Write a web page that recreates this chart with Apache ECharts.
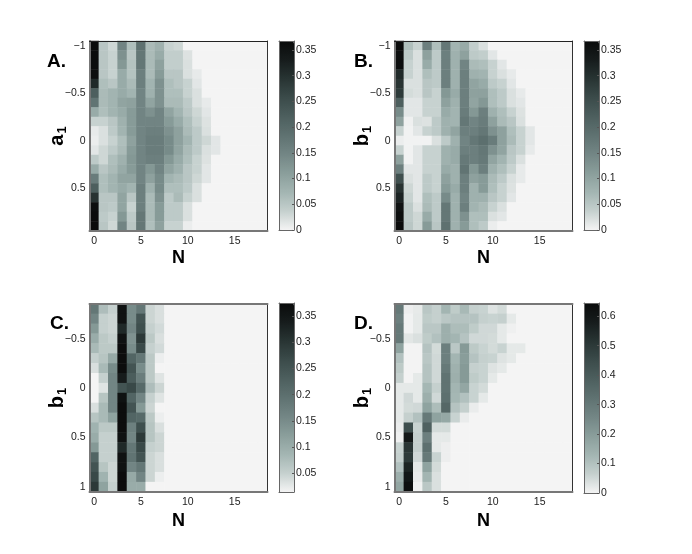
<!DOCTYPE html>
<html>
<head>
<meta charset="utf-8">
<style>html,body{margin:0;padding:0;background:#fff}#chart{width:692px;height:554px}</style>
<script src="https://cdn.jsdelivr.net/npm/echarts@6/dist/echarts.min.js"></script>
</head>
<body>
<div id="chart"></div>
<script>
const nCats = ['0','1','2','3','4','5','6','7','8','9','10','11','12','13','14','15','16','17','18'];
const rowsLong = ['-1','-0.9','-0.8','-0.7','-0.6','-0.5','-0.4','-0.3','-0.2','-0.1','0','0.1','0.2','0.3','0.4','0.5','0.6','0.7','0.8','0.9'];
const rowsShort = ['-0.8','-0.7','-0.6','-0.5','-0.4','-0.3','-0.2','-0.1','0','0.1','0.2','0.3','0.4','0.5','0.6','0.7','0.8','0.9','1'];

// each row runs from N=0, cells past the end are 0
const valuesA = [
    [.37,.05,.03,.15,.06,.185,.065,.08,.035,.03],
    [.37,.05,.035,.13,.05,.175,.065,.09,.04,.04,.018],
    [.36,.05,.035,.12,.055,.175,.065,.105,.04,.04,.02],
    [.36,.05,.035,.09,.055,.16,.065,.115,.05,.05,.02,.01],
    [.31,.06,.05,.09,.065,.16,.075,.13,.06,.05,.035,.014],
    [.22,.065,.075,.09,.075,.15,.08,.13,.06,.06,.035,.02],
    [.18,.065,.075,.1,.105,.15,.1,.13,.065,.065,.045,.02,.01],
    [.09,.06,.075,.09,.115,.15,.13,.15,.1,.075,.05,.03,.014],
    [.035,.035,.05,.08,.115,.15,.15,.15,.115,.09,.06,.035,.018],
    [.01,.02,.045,.075,.115,.15,.16,.16,.13,.105,.065,.045,.02],
    [.007,.02,.035,.06,.105,.15,.165,.165,.14,.105,.075,.045,.03,.014],
    [.014,.03,.045,.065,.115,.15,.165,.165,.14,.1,.065,.045,.02,.014],
    [.045,.03,.06,.08,.12,.15,.16,.16,.12,.09,.06,.035,.018],
    [.09,.05,.065,.09,.115,.15,.12,.15,.1,.08,.05,.035,.014],
    [.165,.06,.075,.1,.1,.15,.105,.14,.075,.065,.05,.03,.014],
    [.22,.06,.075,.09,.075,.16,.08,.14,.06,.06,.045,.02],
    [.295,.05,.05,.1,.05,.16,.065,.13,.045,.065,.035,.02],
    [.36,.05,.045,.1,.035,.16,.065,.115,.045,.045,.02],
    [.37,.045,.035,.12,.045,.175,.065,.115,.045,.045,.02],
    [.37,.05,.03,.15,.05,.175,.06,.105,.035,.035,.007]
];
const valuesB = [
    [.37,.06,.035,.16,.06,.175,.075,.09,.04,.02],
    [.36,.045,.02,.105,.045,.16,.08,.105,.045,.04,.014],
    [.36,.035,.02,.09,.045,.16,.08,.15,.065,.06,.035,.014],
    [.31,.035,.02,.06,.045,.16,.08,.16,.08,.075,.035,.02,.01],
    [.295,.02,.02,.05,.045,.16,.08,.16,.1,.09,.045,.035,.014],
    [.285,.025,.02,.05,.035,.12,.09,.16,.105,.105,.06,.045,.02,.01],
    [.22,.014,.014,.035,.035,.105,.08,.16,.1,.12,.06,.045,.02,.014],
    [.14,.014,.014,.035,.035,.09,.075,.165,.12,.16,.08,.06,.035,.018],
    [.105,.004,.02,.018,.045,.08,.075,.175,.15,.165,.105,.065,.05,.02],
    [.035,.002,.014,.035,.045,.08,.1,.16,.16,.175,.13,.105,.06,.035,.014],
    [.007,.002,.002,.002,.02,.045,.08,.15,.175,.19,.165,.105,.065,.035,.014],
    [.035,.002,.014,.035,.035,.08,.09,.16,.16,.175,.13,.1,.05,.035,.01],
    [.105,.002,.014,.035,.035,.08,.09,.17,.16,.17,.1,.075,.045,.02],
    [.16,.014,.014,.035,.035,.09,.08,.18,.12,.16,.08,.06,.035,.01],
    [.25,.02,.014,.045,.035,.105,.08,.16,.105,.115,.065,.045,.02,.01],
    [.295,.03,.014,.045,.035,.115,.09,.16,.08,.115,.06,.035,.018],
    [.32,.035,.014,.06,.045,.14,.08,.15,.08,.08,.05,.035,.014],
    [.35,.045,.02,.065,.045,.175,.08,.16,.075,.065,.035,.02],
    [.36,.045,.03,.09,.045,.175,.08,.13,.06,.06,.02,.014],
    [.37,.05,.03,.115,.05,.185,.08,.115,.06,.045,.007]
];
const valuesC = [
    [.185,.075,.05,.36,.15,.185,.045,.035],
    [.16,.05,.045,.36,.15,.25,.045,.035],
    [.13,.05,.045,.32,.16,.26,.05,.04],
    [.1,.06,.05,.36,.14,.295,.06,.035],
    [.08,.06,.06,.37,.15,.27,.05,.04],
    [.05,.065,.105,.37,.22,.185,.06,.02],
    [.035,.08,.15,.37,.25,.15,.06,.014],
    [.014,.05,.16,.34,.235,.175,.06,.03],
    [.014,.03,.16,.25,.27,.21,.075,.045],
    [.014,.065,.16,.36,.22,.16,.05,.03],
    [.035,.08,.16,.37,.25,.13,.045,.014],
    [.065,.08,.115,.37,.22,.21,.06,.02],
    [.09,.06,.06,.37,.17,.26,.065,.035],
    [.1,.05,.05,.36,.16,.295,.065,.045],
    [.13,.05,.05,.32,.185,.27,.05,.045],
    [.22,.05,.05,.36,.19,.25,.045,.035],
    [.25,.065,.045,.36,.16,.185,.045,.035],
    [.27,.09,.045,.37,.105,.16,.045,.02],
    [.295,.115,.05,.37,.1,.1,.014,.014]
];
const valuesD = [
    [.30,.01,.018,.085,.065,.13,.075,.12,.065,.06,.03,.045],
    [.28,.004,.02,.075,.065,.085,.095,.095,.095,.065,.06,.065,.02],
    [.30,.004,.02,.085,.085,.145,.11,.11,.075,.05,.05,.02,.007],
    [.30,.025,.035,.075,.1,.145,.13,.095,.05,.05,.045,.02],
    [.18,.002,.002,.095,.045,.28,.085,.205,.08,.06,.045,.06,.02,.02],
    [.10,.002,.002,.085,.05,.28,.13,.195,.095,.065,.06,.03,.02],
    [.08,.002,.002,.095,.05,.30,.14,.205,.065,.06,.03,.02],
    [.065,.002,.02,.095,.05,.32,.145,.205,.075,.06,.02],
    [.02,.02,.02,.125,.065,.32,.13,.17,.06,.045],
    [.02,.05,.02,.145,.05,.33,.125,.10,.06,.02],
    [.02,.045,.05,.18,.11,.36,.095,.065,.014],
    [.02,.065,.10,.30,.18,.165,.06,.014],
    [.014,.44,.06,.38,.045,.045],
    [.007,.59,.065,.28,.02,.02],
    [.06,.51,.065,.33,.02,.01],
    [.065,.5,.05,.30,.06,.01],
    [.10,.56,.02,.18,.045],
    [.145,.60,.014,.13,.035],
    [.17,.63,.004,.085,.035]
];

const barTicksA = [0,0.05,0.1,0.15,0.2,0.25,0.3,0.35];
const barTicksC = [0.05,0.1,0.15,0.2,0.25,0.3,0.35];
const barTicksD = [0,0.1,0.2,0.3,0.4,0.5,0.6];

const grayMap = ['#f4f4f4','#c5d0ce','#a3b5b2','#8a9e9b','#738685','#5f7271','#4d5f5e','#3b4b4a','#283433','#161c1c','#0a0b0b'];
const labelFont = '"Liberation Sans",sans-serif';

const panels = [
    {letter:'A.', lx:47, ly:52, left:89.5, top:41, height:190, nGap:18, values:valuesA, rows:rowsLong, yName:'a', barLeft:279, barTop:41, barH:189, min:0, max:0.3675, ticks:barTicksA},
    {letter:'B.', lx:354, ly:52, left:394.5, top:41, height:190, nGap:18, values:valuesB, rows:rowsLong, yName:'b', barLeft:584, barTop:41, barH:189, min:0, max:0.3675, ticks:barTicksA},
    {letter:'C.', lx:50, ly:314, left:89.5, top:304, height:188, nGap:20, values:valuesC, rows:rowsShort, yName:'b', barLeft:279, barTop:303, barH:189, min:0.014, max:0.375, ticks:barTicksC},
    {letter:'D.', lx:354, ly:314, left:394.5, top:304, height:188, nGap:20, values:valuesD, rows:rowsShort, yName:'b', barLeft:584, barTop:303, barH:190, min:0, max:0.645, ticks:barTicksD}
];

const option = {
    animation: false,
    backgroundColor: '#fff',
    title: [], grid: [], xAxis: [], yAxis: [], visualMap: [], series: []
};

const isMajor = (rows) => (idx) => Number(rows[idx]) * 2 % 1 === 0;

panels.forEach((p, i) => {
    const g = option.grid.length;
    option.title.push({
        text: p.letter, left: p.lx, top: p.ly, padding: 0,
        textStyle: {fontFamily: labelFont, fontSize: 19, fontWeight: 'bold', color: '#000'}
    });
    option.grid.push({left: p.left, top: p.top, width: 178, height: p.height});

    const xTick = (idx) => idx % 5 === 0;
    const yTick = isMajor(p.rows);
    const lineStyle = {color: '#555', width: 1};
    option.xAxis.push({
        type: 'category', gridIndex: g, data: nCats, position: 'bottom', z: 5,
        name: 'N', nameLocation: 'middle', nameGap: p.nGap,
        nameTextStyle: {fontFamily: labelFont, fontSize: 18, fontWeight: 'bold', color: '#000'},
        axisLine: {lineStyle: {color: '#777', width: 2}},
        axisTick: {inside: true, length: 2, interval: xTick, alignWithLabel: true, lineStyle},
        axisLabel: {interval: xTick, margin: 5, fontFamily: labelFont, fontSize: 10.5, color: '#222'},
        splitLine: {show: false}
    }, {
        type: 'category', gridIndex: g, data: nCats, position: 'top', z: 5,
        axisLine: {lineStyle: {color: i < 2 ? '#222' : '#777', width: i < 2 ? 1 : 2}},
        axisTick: {inside: true, length: 2, interval: xTick, alignWithLabel: true, lineStyle},
        axisLabel: {show: false}, splitLine: {show: false}
    });
    option.yAxis.push({
        type: 'category', gridIndex: g, data: p.rows, inverse: true, position: 'left', z: 5,
        name: '{m|' + p.yName + '}{s|1}', nameLocation: 'middle', nameGap: 21, nameRotate: 90, nameMoveOverlap: false,
        nameTextStyle: {
            rich: {
                m: {fontFamily: labelFont, fontSize: 20, fontWeight: 'bold', color: '#000'},
                s: {fontFamily: labelFont, fontSize: 13, fontWeight: 'bold', color: '#000', verticalAlign: 'bottom', padding: [10, 0, 0, 1]}
            }
        },
        axisLine: {lineStyle: {color: '#777', width: 2}},
        axisTick: {inside: true, length: 2, interval: yTick, alignWithLabel: true, lineStyle},
        axisLabel: {
            interval: yTick, margin: 4, fontFamily: labelFont, fontSize: 10.5, color: '#222',
            formatter: (v) => v.replace('-', '\u2212')
        },
        splitLine: {show: false}
    }, {
        type: 'category', gridIndex: g, data: p.rows, inverse: true, position: 'right', z: 5,
        axisLine: {lineStyle: {color: '#333', width: 1}},
        axisTick: {inside: true, length: 2, interval: yTick, alignWithLabel: true, lineStyle},
        axisLabel: {show: false}, splitLine: {show: false}
    });

    const cells = [];
    p.values.forEach((row, r) => {
        nCats.forEach((n, c) => cells.push([c, r, row[c] || 0]));
    });
    option.series.push({
        type: 'heatmap', xAxisIndex: g * 2, yAxisIndex: g * 2, data: cells,
        progressive: 0, emphasis: {disabled: true}, itemStyle: {borderWidth: 0}, silent: true
    });
    option.visualMap.push({
        type: 'continuous', seriesIndex: i, dimension: 2, min: p.min, max: p.max,
        left: p.barLeft, top: p.barTop, itemWidth: 15, itemHeight: p.barH, padding: 0,
        text: null, calculable: false, hoverLink: false, showLabel: false,
        inRange: {color: grayMap}
    });
});

// colorbar frames and ticks
panels.forEach((p) => {
    const g = option.grid.length;
    const frame = {show: true, onZero: false, lineStyle: {color: '#666', width: 1}};
    const plainX = {
        type: 'value', gridIndex: g, min: 0, max: 1, z: 6,
        axisLine: frame, axisTick: {show: false}, axisLabel: {show: false}, splitLine: {show: false}
    };
    option.grid.push({left: p.barLeft, top: p.barTop, width: 15, height: p.barH});
    option.xAxis.push({...plainX, position: 'bottom'}, {...plainX, position: 'top'});
    option.yAxis.push({
        type: 'value', gridIndex: g, min: p.min, max: p.max, position: 'right', z: 6,
        axisLine: frame,
        axisTick: {inside: true, length: 2, customValues: p.ticks, lineStyle: {color: '#555'}},
        axisLabel: {
            customValues: p.ticks, margin: 2, fontFamily: labelFont, fontSize: 10.5, color: '#222',
            showMinLabel: true, showMaxLabel: true
        },
        splitLine: {show: false}
    }, {
        type: 'value', gridIndex: g, min: p.min, max: p.max, position: 'left', z: 6,
        axisLine: frame, axisTick: {show: false}, axisLabel: {show: false}, splitLine: {show: false}
    });
});

const chart = echarts.init(document.getElementById('chart'));
chart.setOption(option);
</script>
</body>
</html>
